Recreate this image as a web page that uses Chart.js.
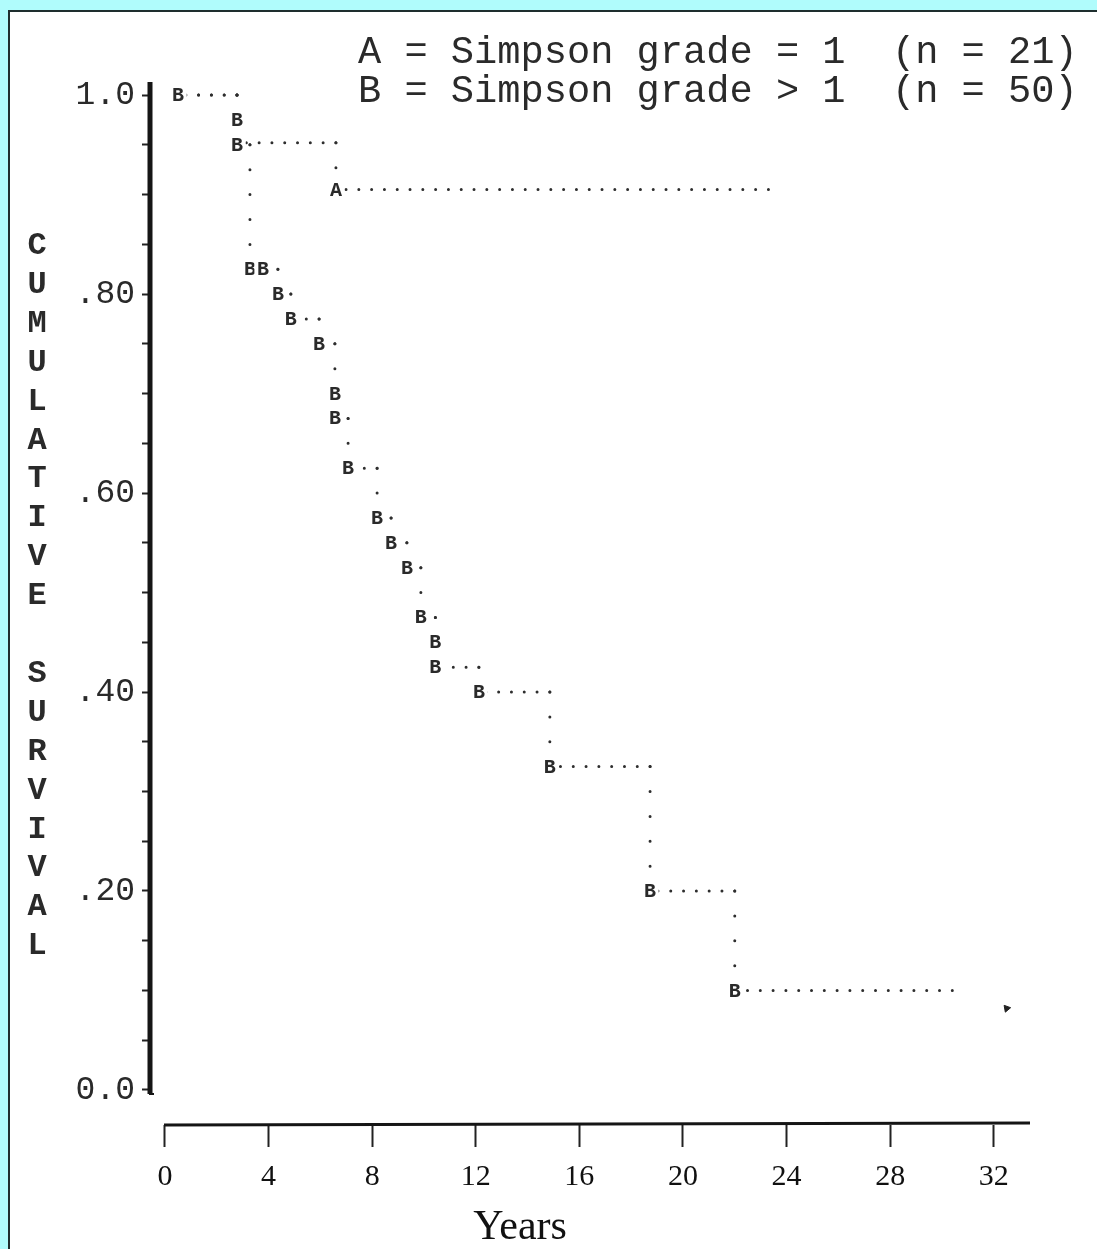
<!DOCTYPE html>
<html><head><meta charset="utf-8">
<script src="https://cdn.jsdelivr.net/npm/chart.js@4.4.1/dist/chart.umd.min.js"></script>
<style>
html,body{margin:0;padding:0;width:1097px;height:1249px;overflow:hidden;background:#b0fcfc;}
#panel{position:absolute;left:8px;top:10px;width:1089px;height:1239px;background:#fff;border-left:2px solid #1e2e2e;border-top:2px solid #1e2e2e;box-sizing:border-box;}
#c{position:absolute;left:0;top:0;}
</style></head><body>
<div id="panel"></div>
<canvas id="c" width="1097" height="1249"></canvas>
<script>
// ---- data ----
// Group A: Simpson grade = 1 (n = 21); last point = end of follow-up
const aTime = [0.5, 2.78, 6.6, 23.3];
const aSurv = [1.0, 0.952, 0.905, 0.905];
// Group B: Simpson grade > 1 (n = 50); last point = end of follow-up
const bTime = [0.5, 2.78, 2.78, 3.28, 3.78, 4.36, 4.86, 5.95, 6.56, 6.56, 7.07, 8.19, 8.73, 9.34, 9.88, 10.44, 10.44, 12.12, 14.86, 18.73, 22.0, 30.4];
const bSurv = [1.0, 0.975, 0.95, 0.825, 0.825, 0.80, 0.775, 0.75, 0.70, 0.675, 0.625, 0.575, 0.55, 0.525, 0.475, 0.45, 0.425, 0.40, 0.325, 0.20, 0.10, 0.10];
// isolated mark near the end of the B curve
const bCensorTime = [32.5];
const bCensorSurv = [0.082];

const xTickValues = [0, 4, 8, 12, 16, 20, 24, 28, 32];
const yTickValues = [0, 0.05, 0.1, 0.15, 0.2, 0.25, 0.3, 0.35, 0.4, 0.45, 0.5, 0.55, 0.6, 0.65, 0.7, 0.75, 0.8, 0.85, 0.9, 0.95, 1.0];
const yLabelValues = [0, 0.2, 0.4, 0.6, 0.8, 1.0];
const yLabelTexts = ['0.0', '.20', '.40', '.60', '.80', '1.0'];
const legendLines = ['A = Simpson grade = 1  (n = 21)', 'B = Simpson grade > 1  (n = 50)'];
const yTitle = 'CUMULATIVE SURVIVAL';
const xTitle = 'Years';

// ---- tables built for the library ----
// horizontal runs are traced right-to-left so the dotted pattern lines up with the drop column
function hSegs(t, s) {
  const d = [];
  for (let i = 0; i < t.length - 1; i++) {
    if (t[i + 1] > t[i]) d.push({x: t[i + 1], y: s[i]}, {x: t[i], y: s[i]}, {x: t[i], y: null});
  }
  return d;
}
function vSegs(t, s) {
  const d = [];
  for (let i = 0; i < t.length - 1; i++) {
    if (s[i + 1] !== s[i]) d.push({x: t[i + 1], y: s[i]}, {x: t[i + 1], y: s[i + 1]}, {x: t[i + 1], y: null});
  }
  return d;
}
function pts(t, s) { return t.map((v, i) => ({x: v, y: s[i]})); }

const dotColor = '#2e2e2e';
const hDot = {type: 'line', borderColor: dotColor, borderWidth: 3, borderDash: [0, 12.8], borderCapStyle: 'round', pointRadius: 0, spanGaps: false, fill: false, tension: 0};
const vDot = Object.assign({}, hDot, {borderDash: [0, 24.9]});

const markerPlugin = {
  id: 'kmText',
  afterDatasetsDraw(chart) {
    const ctx = chart.ctx, ca = chart.chartArea, ys = chart.scales.y, xs = chart.scales.x;
    ctx.save();
    // axis lines
    ctx.strokeStyle = '#151515';
    ctx.lineCap = 'butt';
    ctx.lineWidth = 5;
    ctx.beginPath();
    ctx.moveTo(ca.left, ca.top);
    ctx.lineTo(ca.left, ys.getPixelForValue(0) + 4);
    ctx.stroke();
    ctx.lineWidth = 2;
    ctx.beginPath();
    ctx.moveTo(ca.left - 1, ys.getPixelForValue(0) + 4);
    ctx.lineTo(ca.left + 4, ys.getPixelForValue(0) + 4);
    ctx.stroke();
    ctx.lineWidth = 3;
    ctx.beginPath();
    ctx.moveTo(xs.getPixelForValue(0) - 1, ca.bottom);
    ctx.lineTo(ca.right, ca.bottom - 2);
    ctx.stroke();
    // text markers
    ctx.font = 'bold 20px "Liberation Mono"';
    ctx.textAlign = 'center';
    ctx.textBaseline = 'middle';
    chart.data.datasets.forEach((ds, di) => {
      if (!ds.glyph) return;
      const meta = chart.getDatasetMeta(di);
      meta.data.forEach(el => {
        ctx.fillStyle = '#fff';
        ctx.fillRect(el.x - 8.5, el.y - 10, 17, 20);
        ctx.fillStyle = '#2a2a2a';
        ctx.fillText(ds.glyph, el.x, el.y + 1);
      });
    });
    ctx.restore();
  },
  afterDraw(chart) {
    const ctx = chart.ctx;
    ctx.save();
    ctx.fillStyle = '#2a2a2a';
    ctx.textBaseline = 'middle';
    ctx.textAlign = 'left';
    ctx.font = '38.7px "Liberation Mono"';
    ctx.fillText(legendLines[0], 358, 53);
    ctx.fillText(legendLines[1], 358, 92);
    ctx.font = 'bold 32px "Liberation Mono"';
    ctx.textAlign = 'center';
    for (let i = 0; i < yTitle.length; i++) {
      ctx.fillText(yTitle[i], 37, 246 + 38.9 * i);
    }
    ctx.font = '42px "Liberation Serif"';
    ctx.fillStyle = '#111';
    ctx.fillText(xTitle, 520, 1228);
    ctx.restore();
  }
};

new Chart(document.getElementById('c'), {
  type: 'line',
  data: {
    datasets: [
      Object.assign({label: 'A h', data: hSegs(aTime, aSurv)}, hDot),
      Object.assign({label: 'A v', data: vSegs(aTime, aSurv)}, vDot),
      Object.assign({label: 'B h', data: hSegs(bTime, bSurv)}, hDot),
      Object.assign({label: 'B v', data: vSegs(bTime, bSurv)}, vDot),
      {type: 'scatter', label: 'A', glyph: 'A', data: pts(aTime.slice(0, -1), aSurv.slice(0, -1)), pointRadius: 0, showLine: false},
      {type: 'scatter', label: 'B', glyph: 'B', data: pts(bTime.slice(0, -1), bSurv.slice(0, -1)), pointRadius: 0, showLine: false},
      {type: 'scatter', label: 'B censored', data: pts(bCensorTime, bCensorSurv), pointStyle: 'triangle', rotation: 200, pointRadius: 4, backgroundColor: '#222', borderColor: '#222', borderWidth: 1, showLine: false}
    ]
  },
  options: {
    responsive: false,
    animation: false,
    devicePixelRatio: 1,
    layout: {padding: {left: 0, top: 82, right: 67, bottom: 0}},
    plugins: {legend: {display: false}, tooltip: {enabled: false}, title: {display: false}},
    scales: {
      x: {
        type: 'linear', min: -0.579, max: 33.4,
        afterBuildTicks(s) { s.ticks = xTickValues.map(v => ({value: v})); },
        afterFit(s) { s.height = 124; },
        border: {display: false},
        grid: {drawOnChartArea: false, drawTicks: true, tickLength: 22, tickWidth: 2, tickColor: '#222', color: '#222'},
        ticks: {font: {family: '"Liberation Serif"', size: 30}, color: '#111', padding: 12, maxRotation: 0, autoSkip: false, callback: v => String(v)}
      },
      y: {
        type: 'linear', min: -0.0352, max: 1.0131,
        afterBuildTicks(s) { s.ticks = yTickValues.map(v => ({value: v})); },
        afterFit(s) { s.width = 150; },
        border: {display: false},
        grid: {drawOnChartArea: false, drawTicks: true, tickLength: 8, tickWidth: 2, tickColor: '#222', color: '#222'},
        ticks: {autoSkip: false, font: {family: '"Liberation Mono"', size: 33}, color: '#2a2a2a', padding: 7,
          callback: v => { const i = yLabelValues.findIndex(u => Math.abs(u - v) < 1e-6); return i >= 0 ? yLabelTexts[i] : ''; }}
      }
    }
  },
  plugins: [markerPlugin]
});
</script>
</body></html>
